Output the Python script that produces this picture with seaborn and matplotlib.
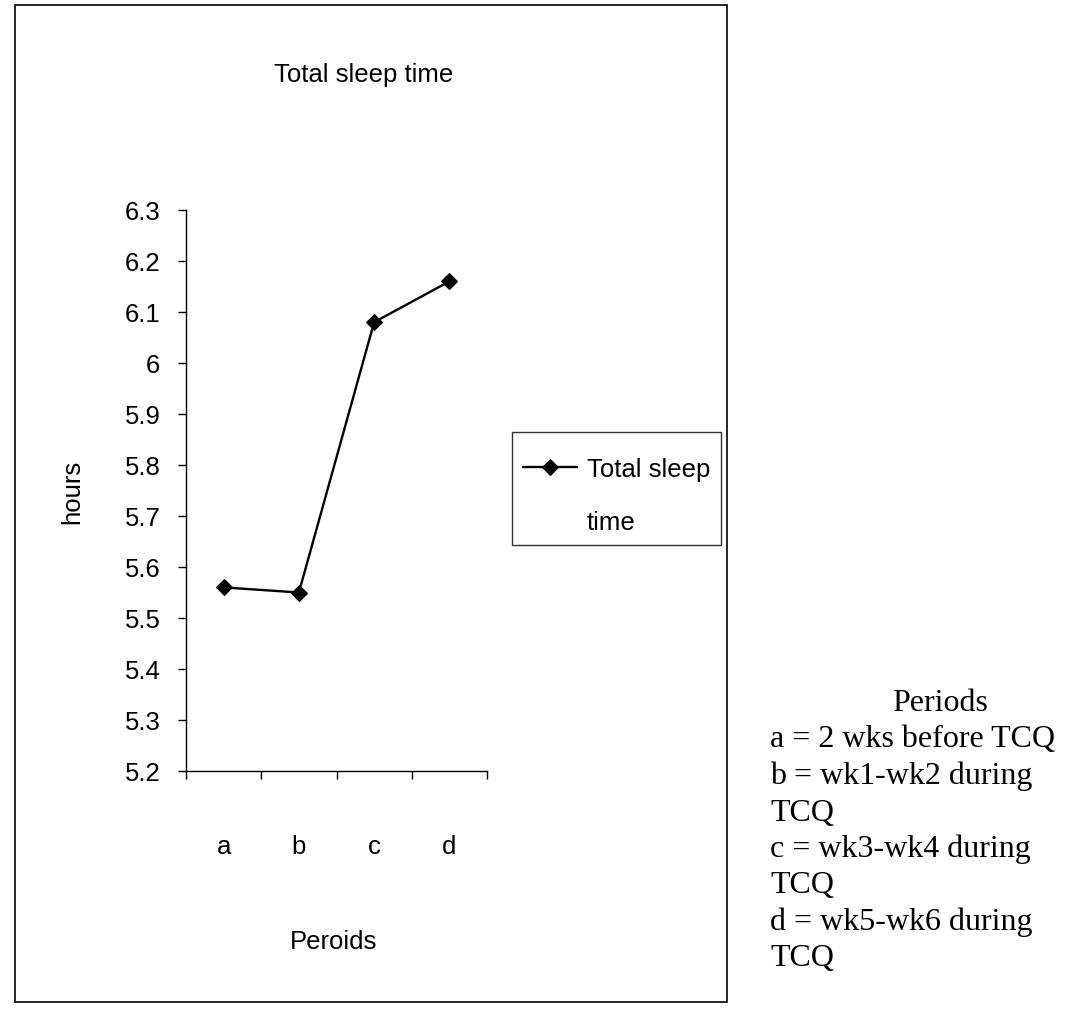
import matplotlib
matplotlib.use("Agg")
import matplotlib.pyplot as plt
import seaborn as sns
import pandas as pd
from matplotlib.patches import Rectangle
from matplotlib.ticker import FixedLocator, FuncFormatter, NullFormatter

# ---- data ----
periods = ["a", "b", "c", "d"]
hours = [5.56, 5.55, 6.08, 6.16]
series_name = "Total sleep\ntime"
title = "Total sleep time"
x_label = "Peroids"
y_label = "hours"
y_ticks = [5.2, 5.3, 5.4, 5.5, 5.6, 5.7, 5.8, 5.9, 6.0, 6.1, 6.2, 6.3]
notes = [
    "a = 2 wks before TCQ",
    "b = wk1-wk2 during",
    "TCQ",
    "c = wk3-wk4 during",
    "TCQ",
    "d = wk5-wk6 during",
    "TCQ",
]
notes_title = "Periods"

sns.set_theme(style="ticks")
plt.rcParams["font.family"] = ["Liberation Sans", "DejaVu Sans"]

W, H = 1081, 1012
fig = plt.figure(figsize=(W / 100, H / 100), dpi=100)
fig.patch.set_facecolor("white")

def fx(px):
    return px / W

def fy(py):
    return 1 - py / H

FS = 18.5
left, right, top, bottom = 186, 487, 211, 772
ax = fig.add_axes([fx(left), fy(bottom), fx(right) - fx(left), fy(top) - fy(bottom)])
ax.set_facecolor("white")

df = pd.DataFrame({"period": periods, "hours": hours})
df["pos"] = range(len(periods))
sns.lineplot(data=df, x="pos", y="hours", ax=ax, color="black", marker="D",
             markersize=8.5, markeredgecolor="black", linewidth=1.7,
             label=series_name, sort=False)

ax.set_xlim(-0.5, len(periods) - 0.5)
ax.set_ylim(y_ticks[0], y_ticks[-1])
ax.set_yticks(y_ticks)
ax.yaxis.set_major_formatter(FuncFormatter(lambda v, p: f"{v:g}"))

# category boundaries as major ticks, labels at category centres as minor ticks
ax.xaxis.set_major_locator(FixedLocator([i - 0.5 for i in range(len(periods) + 1)]))
ax.xaxis.set_major_formatter(NullFormatter())
ax.xaxis.set_minor_locator(FixedLocator(list(range(len(periods)))))
ax.xaxis.set_minor_formatter(FuncFormatter(lambda v, p: periods[int(round(v))]))
ax.tick_params(axis="x", which="minor", length=0, pad=45, labelsize=FS, colors="black")
ax.tick_params(axis="x", which="major", length=6, width=1, direction="out", colors="black")
ax.tick_params(axis="y", which="major", length=6, width=1, direction="out",
               labelsize=FS, pad=12.5, colors="black")

for s in ["top", "right"]:
    ax.spines[s].set_visible(False)
for s in ["left", "bottom"]:
    ax.spines[s].set_color("black")
    ax.spines[s].set_linewidth(1.0)

ax.set_xlabel(x_label, fontsize=FS, color="black")
ax.set_ylabel(y_label, fontsize=FS, color="black")
ax.xaxis.set_label_coords((334 - left) / (right - left), (bottom - 930) / (bottom - top))
ax.yaxis.set_label_coords((84 - left) / (right - left), (bottom - 492) / (bottom - top))

# legend
leg = ax.legend(loc="upper left", bbox_to_anchor=(fx(512), fy(433)),
                bbox_transform=fig.transFigure, frameon=True, fancybox=False,
                shadow=False, fontsize=FS, handlelength=2.1, handleheight=1.0,
                handletextpad=0.38, borderpad=0.42, borderaxespad=0,
                title=" ", title_fontsize=1.5)
leg.get_frame().set_edgecolor("black")
leg.get_frame().set_linewidth(1.0)
for t in leg.get_texts():
    t.set_linespacing(2.55)
    t.set_color("black")
# align the marker with the first line of the label
try:
    for col in leg._legend_handle_box.get_children():
        for item in col.get_children():
            item.align = "top"
except Exception:
    pass

# title
fig.text(fx(364), fy(75), title, ha="center", va="center", fontsize=FS, color="black")

# outer border of chart area
fig.patches.append(Rectangle((fx(15), fy(1003)), fx(727) - fx(15), fy(6) - fy(1003),
                             transform=fig.transFigure, fill=False,
                             edgecolor="black", linewidth=1.2))

# notes on the right
serif = ["Liberation Serif", "DejaVu Serif"]
fig.text(fx(940), fy(704), notes_title, ha="center", va="center", fontsize=23,
         family=serif, color="black")
for i, line in enumerate(notes):
    fig.text(fx(770), fy(740 + i * 36.5), line, ha="left", va="center", fontsize=23,
             family=serif, color="black")

fig.savefig("out.png", dpi=100, facecolor="white")
